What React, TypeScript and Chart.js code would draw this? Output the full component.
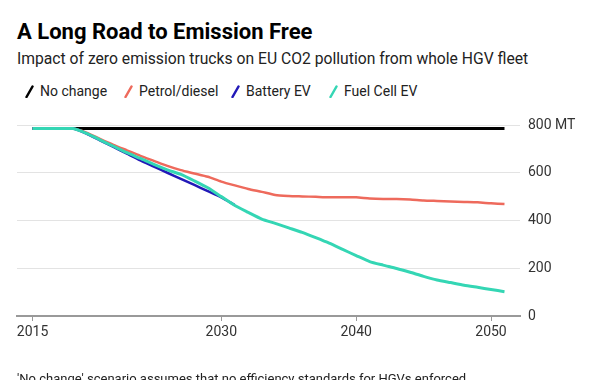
import React, { useEffect, useRef } from "react";
import { Chart, registerables } from "chart.js";

Chart.register(...registerables);

const YEARS = [
  2016, 2017, 2018, 2019, 2020, 2021, 2022, 2023, 2024, 2025, 2026, 2027,
  2028, 2029, 2030, 2031, 2032, 2033, 2034, 2035, 2036, 2037, 2038, 2039,
  2040, 2041, 2042, 2043, 2044, 2045, 2046, 2047, 2048, 2049, 2050, 2051,
];

const NO_CHANGE = [
  785, 785, 785, 785, 785, 785, 785, 785, 785, 785, 785, 785,
  785, 785, 785, 785, 785, 785, 785, 785, 785, 785, 785, 785,
  785, 785, 785, 785, 785, 785, 785, 785, 785, 785, 785, 785,
];

const PETROL_DIESEL = [
  785, 785, 785, 785, 768, 742, 717, 694, 671, 650, 629, 611,
  597, 583, 563, 547, 532, 520, 507, 503, 501, 499, 497, 497,
  497, 492, 490, 490, 488, 484, 482, 480, 478, 476, 472, 469,
];

const BATTERY_EV = [
  785, 785, 785, 785, 764, 736, 708, 680, 652, 626, 600, 574,
  549, 523, 497, 465, null, null, null, null, null, null, null, null,
  null, null, null, null, null, null, null, null, null, null, null, null,
];

const FUEL_CELL_EV = [
  785, 785, 785, 785, 765, 738, 711, 684, 660, 635, 612, 593,
  566, 537, 500, 463, 434, 406, 388, 369, 350, 328, 305, 279,
  253, 228, 213, 199, 183, 166, 151, 140, 129, 120, 111, 102,
];

const X_TICK_VALUES = [2016, 2030, 2040, 2050];
const X_TICK_LABELS = ["2015", "2030", "2040", "2050"];
const Y_TICK_VALUES = [0, 200, 400, 600, 800];
const Y_TICK_LABELS = ["0", "200", "400", "600", "800 MT"];

const SERIES_NAMES = ["No change", "Petrol/diesel", "Battery EV", "Fuel Cell EV"];
const SERIES_COLORS = ["#000000", "#ee6a5c", "#2219b8", "#34d6b4"];

const TITLE = "A Long Road to Emission Free";
const SUBTITLE = "Impact of zero emission trucks on EU CO2 pollution from whole HGV fleet";
const FOOTNOTE = "'No change' scenario assumes that no efficiency standards for HGVs enforced";

const FONT = "Roboto, 'Liberation Sans', Arial, sans-serif";
const LEGEND_X = [25, 124, 231, 329];

function toPoints(values: (number | null)[]) {
  return YEARS.map((y, i) => ({ x: y, y: values[i] }));
}

export default function App() {
  const canvasRef = useRef<HTMLCanvasElement | null>(null);

  useEffect(() => {
    if (!canvasRef.current) return;
    const seriesValues = [NO_CHANGE, PETROL_DIESEL, BATTERY_EV, FUEL_CELL_EV];
    const widths = [3, 2.5, 2.5, 3];
    const orders = [3, 2, 1, 0];
    const chart = new Chart(canvasRef.current, {
      type: "line",
      data: {
        datasets: seriesValues.map((vals, i) => ({
          label: SERIES_NAMES[i],
          data: toPoints(vals),
          borderColor: SERIES_COLORS[i],
          backgroundColor: SERIES_COLORS[i],
          borderWidth: widths[i],
          pointRadius: 0,
          tension: 0.2,
          fill: false,
          spanGaps: false,
          order: orders[i],
          borderJoinStyle: "round",
        })),
      },
      options: {
        responsive: false,
        animation: false,
        events: [],
        layout: { padding: { left: 17, top: 125, right: 0, bottom: 0 } },
        plugins: {
          legend: { display: false },
          tooltip: { enabled: false },
          title: { display: false },
        },
        scales: {
          x: {
            type: "linear",
            min: 2014.85,
            max: 2052.15,
            afterBuildTicks: (s: any) => {
              s.ticks = X_TICK_VALUES.map((v) => ({ value: v }));
            },
            afterFit: (s: any) => {
              s.height = 64;
            },
            grid: {
              drawOnChartArea: false,
              drawTicks: true,
              tickLength: 5,
              color: "#999999",
              lineWidth: 1,
            },
            border: { display: true, color: "#999999", width: 2 },
            ticks: {
              autoSkip: false,
              maxRotation: 0,
              padding: 3,
              color: "#333333",
              font: { family: FONT, size: 14 },
              callback: (_v: any, i: number) => X_TICK_LABELS[i],
            },
          },
          y: {
            position: "right",
            min: 0,
            max: 800,
            afterBuildTicks: (s: any) => {
              s.ticks = Y_TICK_VALUES.map((v) => ({ value: v }));
            },
            afterFit: (s: any) => {
              s.width = 80;
            },
            grid: {
              drawTicks: false,
              lineWidth: 1,
              color: (ctx: any) =>
                ctx.tick && ctx.tick.value === 0 ? "rgba(0,0,0,0)" : "#e3e3e3",
            },
            border: { display: false },
            ticks: {
              padding: 8,
              color: "#333333",
              font: { family: FONT, size: 14 },
              callback: (_v: any, i: number) => Y_TICK_LABELS[i],
            },
          },
        },
      } as any,
    });
    return () => chart.destroy();
  }, []);

  return (
    <div
      style={{
        position: "fixed",
        left: 0,
        top: 0,
        width: 600,
        height: 380,
        overflow: "hidden",
        background: "#ffffff",
        fontFamily: FONT,
        color: "#111111",
      }}
    >
      <div
        style={{
          position: "absolute",
          left: 17,
          top: 20.8,
          fontSize: 22,
          lineHeight: "22px",
          fontWeight: 700,
          whiteSpace: "nowrap",
          color: "#000000",
        }}
      >
        {TITLE}
      </div>
      <div
        style={{
          position: "absolute",
          left: 17,
          top: 51.2,
          fontSize: 15.7,
          lineHeight: "15.7px",
          whiteSpace: "nowrap",
          color: "#222222",
        }}
      >
        {SUBTITLE}
      </div>
      {SERIES_NAMES.map((name, i) => (
        <div
          key={name}
          style={{
            position: "absolute",
            left: LEGEND_X[i],
            top: 84,
            display: "flex",
            alignItems: "center",
            fontSize: 14,
            lineHeight: "14px",
            whiteSpace: "nowrap",
            color: "#222222",
          }}
        >
          <svg width={9} height={13} style={{ marginRight: 6, display: "block" }}>
            <line
              x1={1.5}
              y1={12}
              x2={7.5}
              y2={1.5}
              stroke={SERIES_COLORS[i]}
              strokeWidth={2.5}
              strokeLinecap="round"
            />
          </svg>
          <span>{name}</span>
        </div>
      ))}
      <canvas
        ref={canvasRef}
        width={600}
        height={380}
        style={{ position: "absolute", left: 0, top: 0, width: 600, height: 380 }}
      />
      <div
        style={{
          position: "absolute",
          left: 17,
          top: 371.6,
          fontSize: 13,
          lineHeight: "13px",
          whiteSpace: "nowrap",
          color: "#222222",
        }}
      >
        {FOOTNOTE}
      </div>
    </div>
  );
}
